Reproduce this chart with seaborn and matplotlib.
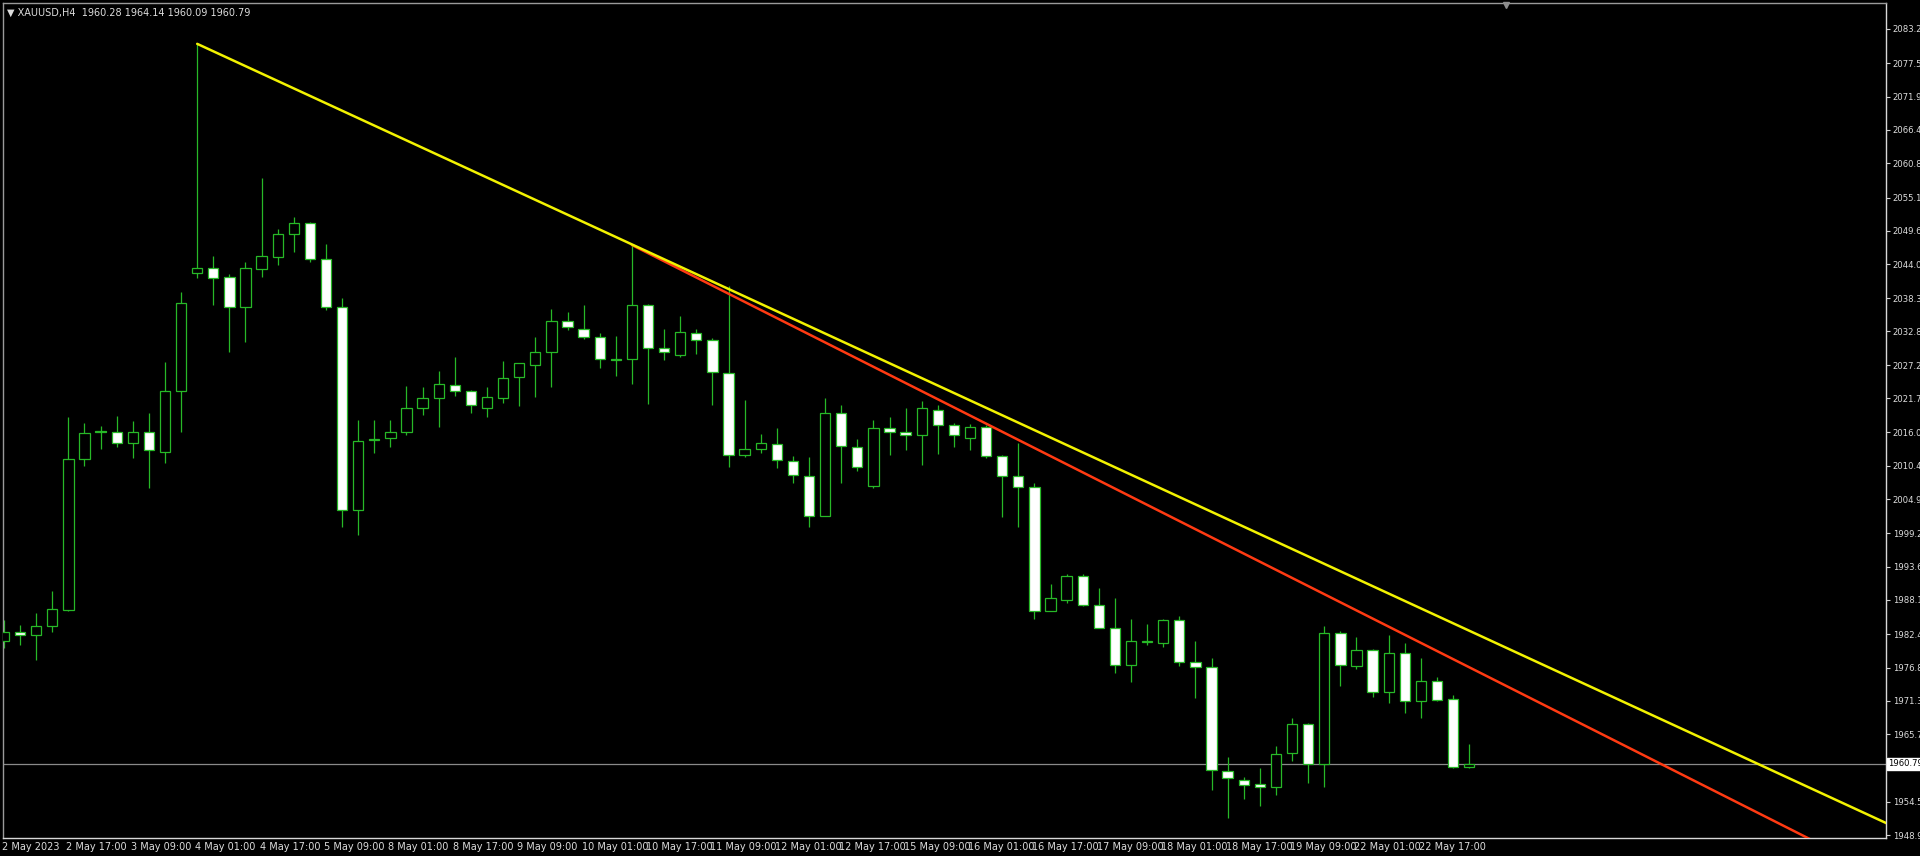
import matplotlib
matplotlib.use("Agg")
import numpy as np
import pandas as pd
import seaborn as sns
import matplotlib.pyplot as plt
import matplotlib.transforms as mtransforms

# ---------------- data (XAUUSD H4) ----------------
OPEN = [1981.2, 1982.8, 1982.3, 1983.7, 1986.4, 2011.5, 2016.2, 2016.0, 2014.2, 2016.1,
        2012.8, 2022.9, 2042.5, 2043.4, 2041.9, 2036.8, 2043.2, 2045.2, 2049.1, 2050.8,
        2044.9, 2036.8, 2003.1, 2014.7, 2015.0, 2016.1, 2020.0, 2021.7, 2023.9, 2022.9,
        2020.0, 2021.8, 2025.3, 2027.2, 2029.4, 2034.6, 2033.2, 2031.8, 2028.2, 2028.2,
        2037.2, 2030.0, 2028.8, 2032.5, 2031.3, 2025.9, 2012.2, 2013.2, 2014.0, 2011.3,
        2008.7, 2002.1, 2019.3, 2013.6, 2007.1, 2016.7, 2016.0, 2015.6, 2019.8, 2017.3,
        2015.0, 2016.9, 2012.1, 2008.7, 2006.9, 1986.3, 1988.1, 1992.0, 1987.3, 1983.5,
        1977.3, 1981.1, 1980.9, 1984.7, 1977.7, 1976.9, 1959.6, 1958.1, 1957.5, 1956.9,
        1962.6, 1967.4, 1960.8, 1982.6, 1977.1, 1979.8, 1972.7, 1979.3, 1971.3, 1974.6,
        1971.6, 1960.28]
HIGH = [1984.8, 1983.9, 1985.9, 1989.5, 2018.6, 2017.6, 2017.1, 2018.7, 2017.9, 2019.3,
        2027.8, 2039.4, 2080.7, 2045.4, 2042.4, 2044.4, 2058.3, 2049.8, 2051.8, 2051.1,
        2047.4, 2038.3, 2018.0, 2018.1, 2018.0, 2023.8, 2023.5, 2026.2, 2028.5, 2023.0,
        2023.6, 2027.9, 2027.6, 2031.9, 2036.5, 2036.0, 2037.2, 2032.6, 2032.0, 2047.2,
        2037.3, 2033.2, 2035.4, 2033.2, 2031.7, 2040.3, 2021.4, 2015.7, 2016.7, 2012.1,
        2011.9, 2021.8, 2020.6, 2014.9, 2018.1, 2018.5, 2020.0, 2021.3, 2020.6, 2017.6,
        2017.4, 2017.2, 2012.2, 2014.2, 2007.5, 1990.8, 1992.4, 1992.4, 1990.0, 1988.4,
        1984.9, 1984.1, 1985.0, 1985.4, 1981.2, 1978.4, 1961.9, 1958.6, 1960.1, 1963.8,
        1968.4, 1967.6, 1983.8, 1983.0, 1981.9, 1979.9, 1982.2, 1981.0, 1978.5, 1975.3,
        1972.3, 1964.14]
LOW = [1980.1, 1980.6, 1978.1, 1982.8, 1986.2, 2010.4, 2013.2, 2013.6, 2011.7, 2006.7,
       2010.9, 2016.1, 2041.7, 2037.2, 2029.4, 2031.1, 2041.8, 2043.8, 2046.1, 2044.3,
       2036.3, 2000.3, 1998.9, 2012.6, 2013.5, 2015.5, 2018.9, 2016.9, 2022.1, 2019.3,
       2018.6, 2020.9, 2020.4, 2021.9, 2023.5, 2033.0, 2031.5, 2026.8, 2025.4, 2024.1,
       2020.7, 2028.1, 2028.6, 2029.1, 2020.6, 2010.3, 2011.9, 2012.6, 2010.0, 2007.6,
       2000.2, 2002.0, 2007.5, 2009.6, 2006.7, 2012.2, 2013.0, 2010.6, 2012.4, 2013.6,
       2013.0, 2011.7, 2001.9, 2000.3, 1984.9, 1986.2, 1987.6, 1987.1, 1983.4, 1976.0,
       1974.5, 1980.6, 1980.3, 1977.1, 1971.7, 1956.4, 1951.8, 1954.9, 1953.7, 1955.6,
       1961.2, 1957.6, 1956.9, 1973.8, 1976.6, 1971.9, 1970.9, 1969.3, 1968.5, 1971.3,
       1960.1, 1960.09]
CLOSE = [1982.8, 1982.3, 1983.7, 1986.6, 2011.5, 2015.9, 2016.0, 2014.2, 2016.1, 2013.0,
         2022.9, 2037.5, 2043.4, 2041.7, 2036.8, 2043.3, 2045.3, 2049.0, 2050.8, 2044.9,
         2036.8, 2003.1, 2014.6, 2014.9, 2016.1, 2020.0, 2021.8, 2024.0, 2022.9, 2020.6,
         2021.9, 2025.1, 2027.5, 2029.4, 2034.6, 2033.5, 2031.8, 2028.2, 2028.1, 2037.2,
         2030.0, 2029.3, 2032.7, 2031.4, 2026.1, 2012.2, 2013.2, 2014.2, 2011.4, 2008.9,
         2002.1, 2019.2, 2013.7, 2010.2, 2016.7, 2016.0, 2015.6, 2020.0, 2017.2, 2015.6,
         2016.9, 2012.0, 2008.8, 2006.9, 1986.3, 1988.4, 1992.0, 1987.3, 1983.5, 1977.3,
         1981.2, 1981.2, 1984.8, 1977.8, 1977.0, 1959.7, 1958.4, 1957.3, 1957.0, 1962.4,
         1967.4, 1960.8, 1982.6, 1977.3, 1979.8, 1972.7, 1979.3, 1971.3, 1974.6, 1971.5,
         1960.2, 1960.79]

TIME_LABELS = ["2 May 2023", "2 May 17:00", "3 May 09:00", "4 May 01:00", "4 May 17:00",
               "5 May 09:00", "8 May 01:00", "8 May 17:00", "9 May 09:00", "10 May 01:00",
               "10 May 17:00", "11 May 09:00", "12 May 01:00", "12 May 17:00", "15 May 09:00",
               "16 May 01:00", "16 May 17:00", "17 May 09:00", "18 May 01:00", "18 May 17:00",
               "19 May 09:00", "22 May 01:00", "22 May 17:00"]
BARS_PER_LABEL = 4

PRICE_TICKS = [2083.2, 2077.5, 2071.9, 2066.4, 2060.8, 2055.1, 2049.6, 2044.0, 2038.3,
               2032.8, 2027.2, 2021.7, 2016.0, 2010.4, 2004.9, 1999.2, 1993.6, 1988.1,
               1982.4, 1976.8, 1971.3, 1965.7, 1954.5, 1948.9]

CURRENT_PRICE = 1960.79
HEADER = "XAUUSD,H4  1960.28 1964.14 1960.09 1960.79"

# trend lines: anchor bar index and price (rays extended to the right)
YELLOW_T = [12, 39]
YELLOW_P = [2080.7, 2047.3]
RED_T = [39, 85]
RED_P = [2047.2, 1985.0]

# ---------------- style ----------------
sns.set_style("dark", rc={"axes.facecolor": "black", "figure.facecolor": "black",
                          "axes.grid": False})
plt.rcParams["font.family"] = ["DejaVu Sans"]

GREEN = "#27b827"
TXT = "#dcdcdc"
FS = 7
FS_Y = 6.1

fig = plt.figure(figsize=(19.2, 8.56), dpi=100)
W, H = 1920, 856
x0, x1, y0, y1 = 3, 1885.7, 3, 838
ax = fig.add_axes([x0 / W, 1 - y1 / H, (x1 - x0) / W, (y1 - y0) / H])
ax.set_facecolor("black")

df = pd.DataFrame({"o": OPEN, "h": HIGH, "l": LOW, "c": CLOSE})
df["i"] = np.arange(len(df))
bull = df["c"] > df["o"]

ax.vlines(df["i"], df["l"], df["h"], color=GREEN, lw=0.9, zorder=2)
bottom = np.minimum(df["o"], df["c"])
height = np.abs(df["c"] - df["o"])
fills = np.where(bull, "black", "white")
ax.bar(df["i"], height, bottom=bottom, width=0.64, color=fills,
       edgecolor=GREEN, linewidth=0.9, zorder=3)

ax.axhline(CURRENT_PRICE, color="#8a8a8a", lw=0.9, zorder=1)

XLIM = (-0.06, 116.87)
YLIM = (1948.45, 2087.5)


def ray(t, p, x_end):
    slope = (p[1] - p[0]) / (t[1] - t[0])
    return [t[0], x_end], [p[0], p[0] + slope * (x_end - t[0])]


rx, ry = ray(RED_T, RED_P, 140)
sns.lineplot(x=rx, y=ry, ax=ax, color="#ff3a12", lw=1.8, zorder=4, sort=False)
yx, yy = ray(YELLOW_T, YELLOW_P, 140)
sns.lineplot(x=yx, y=yy, ax=ax, color="#f2f200", lw=1.8, zorder=5, sort=False)

ax.set_xlim(*XLIM)
ax.set_ylim(*YLIM)

# price axis
ax.yaxis.tick_right()
ax.set_yticks(PRICE_TICKS)
ax.set_yticklabels([f"{v:.1f}" for v in PRICE_TICKS])
ax.tick_params(axis="y", colors="#d0d0d0", labelcolor=TXT, length=3, width=0.8,
               pad=2, labelsize=FS_Y, direction="out")
ax.set_ylabel("")

# time axis
ax.set_xticks(np.arange(len(TIME_LABELS)) * BARS_PER_LABEL)
ax.set_xticklabels(TIME_LABELS)
ax.tick_params(axis="x", colors="#d0d0d0", labelcolor=TXT, length=4, width=0.8,
               pad=3, labelsize=FS, direction="in")
for lab in ax.get_xticklabels():
    lab.set_ha("left")
    lab.set_transform(lab.get_transform() + mtransforms.ScaledTranslation(-2 / 100, 0, fig.dpi_scale_trans))
ax.set_xlabel("")

for side in ["left", "top"]:
    ax.spines[side].set_color("#9a9a9a")
    ax.spines[side].set_linewidth(1.0)
    ax.spines[side].set_visible(True)
for side in ["right", "bottom"]:
    ax.spines[side].set_color("#d8d8d8")
    ax.spines[side].set_linewidth(1.0)
    ax.spines[side].set_visible(True)

# current price box
trans = mtransforms.blended_transform_factory(ax.transAxes, ax.transData)
ax.text(1.0015, CURRENT_PRICE, f"{CURRENT_PRICE:.2f}", transform=trans, ha="left",
        va="center", color="black", fontsize=FS_Y, zorder=10, clip_on=False,
        bbox=dict(facecolor="white", edgecolor="white", pad=1.2))

# header
ax.text(0.002, 1 - (12.7 - y0) / (y1 - y0), "\u25bc " + HEADER, transform=ax.transAxes,
        ha="left", va="center", color=TXT, fontsize=FS, zorder=10)

# shift marker at top
ax.plot([(1506 - x0) / (x1 - x0)], [1 - 2 / (y1 - y0)], marker="v", color="#8c8c8c",
        markersize=5, transform=ax.transAxes, clip_on=False, zorder=10)

fig.savefig("out.png", dpi=100, facecolor="black")
